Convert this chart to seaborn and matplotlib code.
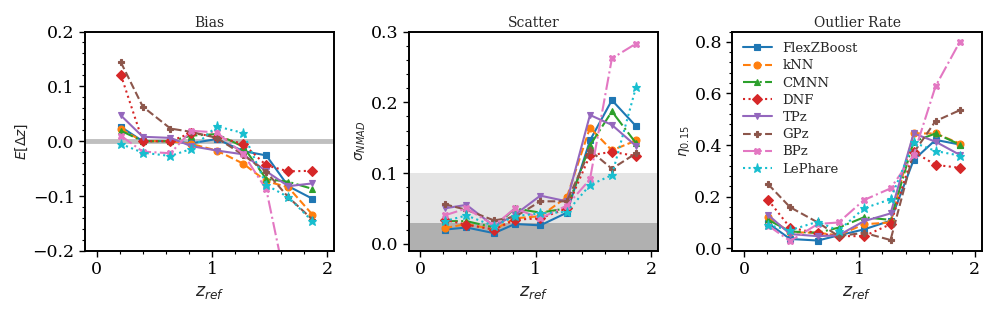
import numpy as np
import matplotlib
matplotlib.use("Agg")
import matplotlib.pyplot as plt
from matplotlib.ticker import AutoMinorLocator
import seaborn as sns

# bins en redshift
z_ref = [0.21, 0.40, 0.64, 0.82, 1.04, 1.27, 1.47, 1.66, 1.87]
methods = ["FlexZBoost", "kNN", "CMNN", "DNF", "TPz", "GPz", "BPz", "LePhare"]

# Bias E[dz]
bias_flexzboost = [0.026, 0.0, 0.0, -0.004, 0.004, -0.018, -0.026, -0.082, -0.105]
bias_knn = [0.022, 0.0, 0.0, -0.005, -0.017, -0.041, -0.073, -0.084, -0.134]
bias_cmnn = [0.019, 0.0, 0.0, 0.010, 0.013, -0.010, -0.069, -0.074, -0.087]
bias_dnf = [0.121, 0.0, 0.0, 0.015, 0.008, -0.005, -0.044, -0.055, -0.054]
bias_tpz = [0.047, 0.008, 0.006, -0.009, -0.017, -0.024, -0.055, -0.082, -0.077]
bias_gpz = [0.144, 0.063, 0.023, 0.017, 0.006, -0.025, -0.056, -0.102, -0.143]
bias_bpz = [0.010, -0.019, -0.022, 0.019, 0.016, -0.023, -0.088, -0.28, -0.42]
bias_lephare = [-0.005, -0.021, -0.027, -0.014, 0.027, 0.015, -0.080, -0.102, -0.146]

# Scatter sigma_NMAD
scat_flexzboost = [0.020, 0.023, 0.015, 0.028, 0.026, 0.044, 0.146, 0.203, 0.166]
scat_knn = [0.022, 0.028, 0.020, 0.036, 0.039, 0.066, 0.164, 0.132, 0.146]
scat_cmnn = [0.032, 0.032, 0.023, 0.050, 0.044, 0.050, 0.139, 0.187, 0.142]
scat_dnf = [0.034, 0.027, 0.020, 0.034, 0.036, 0.050, 0.125, 0.130, 0.124]
scat_tpz = [0.050, 0.055, 0.025, 0.041, 0.068, 0.060, 0.182, 0.168, 0.138]
scat_gpz = [0.056, 0.048, 0.033, 0.038, 0.060, 0.060, 0.132, 0.106, 0.128]
scat_bpz = [0.040, 0.050, 0.026, 0.050, 0.036, 0.054, 0.091, 0.262, 0.283]
scat_lephare = [0.032, 0.040, 0.025, 0.039, 0.043, 0.045, 0.083, 0.097, 0.222]

# Outlier rate eta_0.15
out_flexzboost = [0.097, 0.036, 0.030, 0.050, 0.073, 0.107, 0.342, 0.420, 0.402]
out_knn = [0.120, 0.062, 0.060, 0.050, 0.093, 0.100, 0.445, 0.445, 0.406]
out_cmnn = [0.110, 0.065, 0.060, 0.080, 0.120, 0.110, 0.413, 0.445, 0.402]
out_dnf = [0.187, 0.080, 0.058, 0.047, 0.047, 0.093, 0.374, 0.323, 0.312]
out_tpz = [0.129, 0.055, 0.047, 0.050, 0.105, 0.135, 0.445, 0.413, 0.362]
out_gpz = [0.248, 0.159, 0.100, 0.047, 0.060, 0.032, 0.370, 0.493, 0.535]
out_bpz = [0.088, 0.028, 0.094, 0.100, 0.187, 0.232, 0.361, 0.628, 0.800]
out_lephare = [0.090, 0.070, 0.103, 0.068, 0.155, 0.190, 0.410, 0.377, 0.359]

bias = [bias_flexzboost, bias_knn, bias_cmnn, bias_dnf, bias_tpz, bias_gpz, bias_bpz, bias_lephare]
scatter = [scat_flexzboost, scat_knn, scat_cmnn, scat_dnf, scat_tpz, scat_gpz, scat_bpz, scat_lephare]
outlier = [out_flexzboost, out_knn, out_cmnn, out_dnf, out_tpz, out_gpz, out_bpz, out_lephare]

colors = sns.color_palette("tab10")
colors = [colors[0], colors[1], colors[2], colors[3], colors[4], colors[5], colors[6], colors[9]]
linestyles = ["-", "--", "-.", ":", "-", "--", "-.", ":"]
markers = ["s", "o", "^", "D", "v", "P", "X", "*"]

sns.set_style("ticks")
plt.rcParams["font.family"] = ["DejaVu Serif"]
plt.rcParams["mathtext.fontset"] = "dejavusans"
plt.rcParams["axes.linewidth"] = 1.4
plt.rcParams["axes.edgecolor"] = "black"
plt.rcParams["xtick.color"] = "black"
plt.rcParams["ytick.color"] = "black"

fig, axes = plt.subplots(1, 3, figsize=(9.97, 3.12), dpi=100)
fig.subplots_adjust(left=0.0853, right=0.9847, top=0.899, bottom=0.196, wspace=0.298)

panels = [
    (axes[0], bias, "Bias", r"$E[\Delta z]$", (-0.2, 0.2), [-0.2, -0.1, 0.0, 0.1, 0.2]),
    (axes[1], scatter, "Scatter", r"$\sigma_{NMAD}$", (-0.01, 0.3), [0.0, 0.1, 0.2, 0.3]),
    (axes[2], outlier, "Outlier Rate", r"$\eta_{0.15}$", (-0.01, 0.84), [0.0, 0.2, 0.4, 0.6, 0.8]),
]

# Zones de référence
axes[0].axhline(0, color="gray", lw=3.5, alpha=0.5, zorder=0)
axes[1].axhspan(-0.05, 0.03, color="#b0b0b0", lw=0, zorder=0)
axes[1].axhspan(0.03, 0.1, color="#e5e5e5", lw=0, zorder=0)

for ax, data, title, ylab, ylim, yticks in panels:
    for i, name in enumerate(methods):
        ms = 6.5 if markers[i] == "*" else 5
        sns.lineplot(x=z_ref, y=data[i], ax=ax, color=colors[i], linestyle=linestyles[i],
                     marker=markers[i], markersize=ms, markeredgewidth=0.8,
                     markeredgecolor=colors[i], lw=1.5, label=name, legend=False)
    ax.set_xlim(-0.1, 2.06)
    ax.set_ylim(*ylim)
    ax.set_xticks([0, 1, 2])
    ax.set_yticks(yticks)
    ax.xaxis.set_minor_locator(AutoMinorLocator(5))
    ax.yaxis.set_minor_locator(AutoMinorLocator(5))
    ax.tick_params(which="major", labelsize=12.5, length=4, width=1)
    ax.tick_params(which="minor", length=2, width=0.8)
    ax.set_title(title, fontsize=10, pad=3)
    ax.set_xlabel(r"$z_{ref}$", fontsize=12.5)
    ax.set_ylabel(ylab, fontsize=10, labelpad=2)
    for sp in ax.spines.values():
        sp.set_visible(True)

axes[2].legend(loc="upper left", frameon=False, fontsize=9.5, handlelength=2.2,
               labelspacing=0.32, borderaxespad=0.4)

plt.savefig("out.png", dpi=100)
